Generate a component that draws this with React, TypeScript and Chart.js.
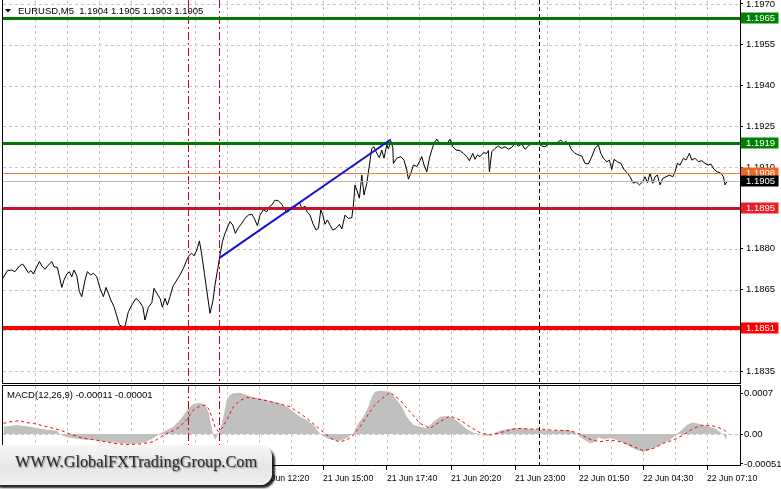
import React, { useEffect, useRef } from 'react';
import { Chart, registerables } from 'chart.js';

Chart.register(...registerables);

// ---------- DATA ----------
// price line: x = bar index (M5 bars), y = close price
const priceBars = [
  0, 2.2, 4.3, 6, 8.2, 9.8, 11, 12.7, 14, 15.2, 16.5, 18.2, 19.4, 21, 22.7, 24.4, 25.5, 27.2, 29.4, 30.5,
  31.9, 33.2, 34.4, 35.5, 36.9, 38.2, 39.4, 41, 42.2, 43.9, 45.2, 46.9, 48.5, 50.2, 51.5, 52.7, 53.9, 55.5, 56.9, 58.2,
  59.9, 61, 62.7, 64.4, 66.5, 68.2, 69.9, 71, 72.7, 74.4, 75.5, 76.9, 78.5, 79.7, 81, 82.2, 83.5, 84.9, 86.9, 88.5,
  90.2, 91.9, 93.2, 94.4, 95.5, 96.9, 98.2, 99.4, 100.7, 102.2, 103.5, 104.9, 106, 107.4, 108.5, 109.7, 111, 112.7, 113.5, 114.9,
  116.2, 117.7, 119.4, 121, 122.7, 124.4, 125.5, 127.2, 128.5, 130.2, 131.9, 133.2, 134.4, 136, 137.7, 139.4, 140.5, 141.9, 143.5, 145.5,
  146.9, 148.2, 149.4, 151, 152.2, 153.5, 154.9, 156.5, 157.7, 158.9, 159.9, 161, 162.2, 163.5, 164.9, 166.5, 168.2, 169.4, 171, 172.7,
  174.4, 175.2, 176, 176.9, 178.2, 179.4, 180.5, 181.9, 183.2, 184.4, 185.5, 186.9, 188.2, 189.4, 190.5, 191.9, 192.7, 193.9, 194.9, 195.2,
  196.9, 198.9, 200.5, 201.9, 202.7, 203.9, 205.2, 206.9, 208.2, 209.4, 210.5, 211.9, 213.2, 214.4, 215.5, 216.9, 218.2, 220.2, 221.9, 223.5,
  224.9, 226.5, 228.5, 230.2, 231.9, 233.2, 234.9, 236, 237.2, 238.5, 240.2, 241.9, 242.7, 243.2, 244.4, 246, 247.7, 249.4, 251, 252.7,
  254.4, 256, 257.7, 259.4, 261, 262.7, 264.4, 266, 267.7, 269.4, 271, 272.7, 274.4, 276, 277.7, 278.9, 280.2, 281.5, 282.7, 284.4,
  286, 287.7, 289.4, 291, 292.7, 294.4, 296, 297.7, 298.9, 300.2, 301.9, 303.2, 304.4, 305.5, 307.2, 308.9, 310.5, 312.2, 313.5, 315.2,
  316.5, 318.2, 319.9, 321, 322.2, 323.5, 324.9, 326, 327.2, 328.5, 329.9, 331.5, 333.2, 334.9, 336, 337.2, 338.5, 340.2, 341.5, 343.2,
  344.4, 346, 347.7, 349.4, 351, 352.7, 353.9, 355.5, 357.2, 358.9, 360.2, 361, 362.2,
];
const priceValues = [
  1.18692, 1.1872, 1.18722, 1.18716, 1.18737, 1.18744, 1.18732, 1.18712, 1.1872, 1.18707, 1.18728, 1.18753, 1.18737, 1.18725, 1.1874, 1.18753, 1.18734, 1.18732, 1.18658, 1.18685,
  1.18707, 1.18716, 1.18697, 1.18722, 1.187, 1.18642, 1.18624, 1.18685, 1.18716, 1.18704, 1.1871, 1.18697, 1.18655, 1.18624, 1.18658, 1.18636, 1.18612, 1.18587, 1.18553, 1.1852,
  1.18514, 1.18516, 1.18569, 1.18593, 1.18618, 1.18606, 1.18587, 1.18538, 1.18585, 1.18602, 1.18655, 1.18636, 1.18618, 1.18585, 1.18618, 1.18593, 1.18624, 1.18661, 1.18685, 1.18704,
  1.18728, 1.18759, 1.18777, 1.18783, 1.18774, 1.18796, 1.18829, 1.18777, 1.1871, 1.1863, 1.18563, 1.18606, 1.18667, 1.18728, 1.18777, 1.18826, 1.18857, 1.18887, 1.189, 1.18887,
  1.18857, 1.18878, 1.18894, 1.18912, 1.18924, 1.18927, 1.18914, 1.18885, 1.18924, 1.18943, 1.18936, 1.18955, 1.18961, 1.18979, 1.18976, 1.18964, 1.18949, 1.18934, 1.18943, 1.18951,
  1.18961, 1.18971, 1.18949, 1.18957, 1.18934, 1.18924, 1.18894, 1.18869, 1.18875, 1.18943, 1.18924, 1.1889, 1.18906, 1.18887, 1.18869, 1.18875, 1.1889, 1.18873, 1.18924, 1.18912,
  1.18914, 1.18961, 1.19035, 1.19016, 1.18986, 1.19071, 1.18998, 1.19041, 1.19108, 1.19169, 1.19175, 1.19151, 1.19135, 1.19163, 1.19133, 1.19182, 1.19167, 1.19196, 1.19172, 1.19114,
  1.19133, 1.19139, 1.19126, 1.1909, 1.19056, 1.19078, 1.19108, 1.19102, 1.1912, 1.19139, 1.19108, 1.19083, 1.19133, 1.19163, 1.19188, 1.19203, 1.19188, 1.19188, 1.19185, 1.19203,
  1.19175, 1.19163, 1.19161, 1.19151, 1.19139, 1.19124, 1.19151, 1.19129, 1.19145, 1.19139, 1.19153, 1.19151, 1.19161, 1.19083, 1.19157, 1.19169, 1.19178, 1.19169, 1.19175, 1.19166,
  1.19173, 1.19188, 1.19178, 1.19185, 1.19166, 1.19178, 1.19188, 1.1919, 1.19185, 1.19178, 1.19175, 1.19185, 1.19188, 1.19185, 1.19194, 1.192, 1.1919, 1.19194, 1.19188, 1.19163,
  1.19151, 1.19145, 1.19141, 1.19114, 1.19112, 1.19139, 1.19169, 1.19182, 1.19151, 1.19133, 1.1912, 1.19126, 1.19092, 1.19129, 1.1912, 1.19114, 1.19092, 1.19078, 1.19065, 1.19041,
  1.19047, 1.19035, 1.19047, 1.19065, 1.19043, 1.19078, 1.19041, 1.19065, 1.19071, 1.19035, 1.19059, 1.19065, 1.19071, 1.19065, 1.19083, 1.19114, 1.19108, 1.19133, 1.19126, 1.19151,
  1.19126, 1.19133, 1.1912, 1.19124, 1.19114, 1.19108, 1.19112, 1.19092, 1.19083, 1.19078, 1.19065, 1.19035, 1.1905,
];

const trendBars = [108.1, 193.9];
const trendValues = [1.18766, 1.19202];

const levelValues = [1.1965, 1.1919, 1.1908, 1.1905, 1.1895, 1.1851];
const levelLabels = ['1.1965', '1.1919', '1.1908', '1.1905', '1.1895', '1.1851'];

const priceTicks = [1.197, 1.1955, 1.194, 1.1925, 1.191, 1.1895, 1.188, 1.1865, 1.185, 1.1835];
const priceTickLabels = ['1.1970', '1.1955', '1.1940', '1.1925', '1.1910', '1.1895', '1.1880', '1.1865', '', '1.1835'];

const timeLabels = [
  '21 Jun 01:40', '21 Jun 04:20', '21 Jun 07:00', '21 Jun 09:40', '21 Jun 12:20', '21 Jun 15:00',
  '21 Jun 17:40', '21 Jun 20:20', '21 Jun 23:00', '22 Jun 01:50', '22 Jun 04:30', '22 Jun 07:10',
];

const redVLineBars = [92.35, 108.15];
const blackVLineBars = [268.2];

const macdHistBars = [
  0.2, 6.9, 13.5, 20.2, 26.9, 28, 29.5, 31.9, 38.5, 45.2, 51.9, 58.5, 65.2, 71, 75.2, 78.5, 81.9, 85.2, 88.5, 91,
  92.7, 95.2, 98.5, 101, 102.7, 103.9, 105.2, 106, 106.9, 108.5, 110.2, 111.9, 113.5, 115.2, 118.5, 121.9, 125.2, 131.9, 138.5, 141.9,
  145.2, 148.5, 151.9, 155.2, 158.5, 161.9, 165.2, 168.5, 171.9, 175.2, 177.7, 180.2, 182.7, 184.4, 186, 188.5, 193.5, 196.9, 199.4, 201.9,
  205.2, 208.5, 211.9, 215.2, 218.5, 221.9, 225.2, 228.5, 231.9, 235.2, 238.5, 241.9, 245.2, 248.5, 251.9, 255.2, 260.2, 265.2, 270.2, 275.2,
  280.2, 284.4, 286.9, 290.2, 293.5, 296, 297.7, 300.2, 303.5, 306.9, 310.2, 313.5, 316.9, 320.2, 323.5, 326.9, 330.2, 333.5, 336.9, 339.4,
  341.9, 344.4, 346.9, 350.2, 353.5, 356.9, 360.2, 361.9,
];
const macdHistValues = [
  0.000125, 0.000154, 0.000125, 0.00008, 0.000057, 0.000015, -0.00002, -0.000057, -0.000091, -0.000102, -0.000131, -0.000159, -0.00017, -0.00014, -0.000074, 0.000011, 0.000068, 0.000125, 0.000239, 0.000353,
  0.000438, 0.000512, 0.000535, 0.000495, 0.000381, 0.000182, -0.000017, -0.000102, -0.000046, 0.000068, 0.000296, 0.00058, 0.000666, 0.000695, 0.000705, 0.000666, 0.000626, 0.00058, 0.000524, 0.000467,
  0.000381, 0.000296, 0.000239, 0.000154, 0.000011, -0.000074, -0.000102, -0.000114, -0.000074, 0.000011, 0.000182, 0.000296, 0.000467, 0.000637, 0.000722, 0.00074, 0.000722, 0.00058, 0.000467, 0.000296,
  0.000154, 0.000125, 0.000097, 0.00021, 0.000296, 0.000307, 0.000268, 0.000182, 0.00008, 0.000023, 0, -0.000034, 0.000011, 0.000057, 0.00008, 0.000097, 0.000097, 0.00008, 0.000068, 0.000057,
  0.000068, 0.000057, 0, -0.000091, -0.000159, -0.000131, -0.000057, -0.000091, -0.000074, -0.000102, -0.000148, -0.000216, -0.000273, -0.000302, -0.000273, -0.000216, -0.000159, -0.000102, 0, 0.000068,
  0.000154, 0.000193, 0.000182, 0.000154, 0.000125, 0.00008, -0.000017, -0.000102,
];

const macdSignalBars = [
  0.2, 3.5, 8.5, 11.9, 15.2, 21.9, 28.5, 33.5, 40.2, 48.5, 55.2, 61.9, 68.5, 75.2, 78.5, 81.9, 85.2, 88.5, 91.9, 95.2,
  98.5, 101, 102.7, 104.4, 106, 107.7, 109.4, 111.9, 115.2, 118.5, 121.9, 125.2, 131.9, 138.5, 143.5, 148.5, 151.9, 156.9, 161.9, 165.2,
  168.5, 171.9, 175.2, 178.5, 181.9, 185.2, 188.5, 193.5, 198.5, 203.5, 208.5, 213.5, 218.5, 223.5, 228.5, 233.5, 238.5, 243.5, 248.5, 253.5,
  256.9, 263.5, 268.5, 273.5, 283.5, 288.5, 293.5, 298.5, 303.5, 308.5, 313.5, 320.2, 325.2, 330.2, 335.2, 340.2, 345.2, 350.2, 355.2, 360.2,
  362.7,
];
const macdSignalValues = [
  0.000182, 0.00021, 0.000228, 0.000193, 0.000182, 0.000125, 0.000068, 0, -0.000074, -0.000114, -0.000159, -0.00018, -0.00017, -0.000131, -0.000057, 0.000011, 0.000057, 0.000125, 0.00025, 0.00041,
  0.000478, 0.000495, 0.000438, 0.000296, 0.000125, 0.00004, 0.000097, 0.000239, 0.000467, 0.000569, 0.000626, 0.000609, 0.000569, 0.000512, 0.000467, 0.000353, 0.000268, 0.000125, -0.000017, -0.000102,
  -0.000131, -0.000102, -0.000017, 0.000125, 0.000296, 0.000467, 0.00058, 0.00071, 0.00058, 0.000381, 0.000182, 0.000097, 0.00021, 0.000307, 0.000239, 0.000125, 0.000023, -0.000017, 0.000023, 0.000068,
  0.000097, 0.000085, 0.000085, 0.000068, 0.000057, 0, -0.000091, -0.000131, -0.000102, -0.000131, -0.000188, -0.000285, -0.000245, -0.000159, -0.000102, -0.000017, 0.000097, 0.000154, 0.000137, 0.00008,
  0,
];

const macdTicks = [0.0007, 0, -0.00051];
const macdTickLabels = ['0.0007', '0.00', '-0.00051'];

const headerText = 'EURUSD,M5  1.1904 1.1905 1.1903 1.1905';
const macdText = 'MACD(12,26,9) -0.00011 -0.00001';
const watermarkText = 'WWW.GlobalFXTradingGroup.Com';

// ---------- STYLES ----------
const FONT = '"Liberation Sans", Arial, sans-serif';
const GRID = '#c6c6c6';
const BAR_MAX = 368.5;
const GRID_STEP = 16;
const LABEL_STEP = 32;
const levelStyles = [
  { line: '#007800', width: 3, box: '#008000', text: '#ffffff' },
  { line: '#007800', width: 3, box: '#008000', text: '#ffffff' },
  { line: '#ff7a30', width: 1, box: '#f26522', text: '#ffffff' },
  { line: '#b8b8b8', width: 1, box: '#000000', text: '#ffffff' },
  { line: '#c8142a', width: 3, box: '#ee1c25', text: '#ffffff' },
  { line: '#ff0000', width: 4, box: '#ff0000', text: '#ffffff' },
];

function seg(ctx: CanvasRenderingContext2D, x1: number, y1: number, x2: number, y2: number) {
  ctx.beginPath();
  ctx.moveTo(x1, y1);
  ctx.lineTo(x2, y2);
  ctx.stroke();
}

function drawVGrid(chart: any) {
  const { ctx, chartArea: a, scales } = chart;
  ctx.save();
  ctx.strokeStyle = GRID;
  ctx.lineWidth = 1;
  ctx.setLineDash([3, 3]);
  for (let b = GRID_STEP; b < BAR_MAX - 4; b += GRID_STEP) {
    const px = Math.round(scales.x.getPixelForValue(b)) + 0.5;
    seg(ctx, px, a.top, px, a.bottom);
  }
  ctx.restore();
}

function drawVLines(chart: any) {
  const { ctx, chartArea: a, scales } = chart;
  ctx.save();
  ctx.lineWidth = 1;
  ctx.strokeStyle = '#c8001e';
  ctx.setLineDash([8, 3, 2, 3]);
  redVLineBars.forEach((b) => {
    const px = Math.round(scales.x.getPixelForValue(b)) + 0.5;
    seg(ctx, px, a.top - 1, px, a.bottom);
  });
  ctx.strokeStyle = '#000000';
  ctx.setLineDash([4, 3]);
  blackVLineBars.forEach((b) => {
    const px = Math.round(scales.x.getPixelForValue(b)) + 0.5;
    seg(ctx, px, a.top - 1, px, a.bottom);
  });
  ctx.restore();
}

function drawFrame(chart: any, top: number) {
  const { ctx, chartArea: a } = chart;
  ctx.save();
  ctx.strokeStyle = '#000';
  ctx.lineWidth = 1;
  ctx.setLineDash([]);
  seg(ctx, a.left - 0.5, top, a.left - 0.5, a.bottom);
  seg(ctx, a.right + 0.5, top, a.right + 0.5, a.bottom);
  seg(ctx, a.left - 0.5, a.bottom - 0.5, a.right + 0.5, a.bottom - 0.5);
  ctx.restore();
}

const mainPlugin = {
  id: 'mt4main',
  beforeDatasetsDraw(chart: any) {
    const { ctx, chartArea: a, scales } = chart;
    drawVGrid(chart);
    ctx.save();
    ctx.strokeStyle = GRID;
    ctx.lineWidth = 1;
    ctx.setLineDash([3, 3]);
    priceTicks.forEach((v) => {
      const py = Math.round(scales.y.getPixelForValue(v)) + 0.5;
      seg(ctx, a.left, py, a.right, py);
    });
    ctx.restore();
  },
  afterDatasetDraw(chart: any, args: any) {
    if (args.index !== 1) return;
    const { ctx, chartArea: a, scales } = chart;
    drawVLines(chart);
    ctx.save();
    ctx.setLineDash([]);
    levelValues.forEach((v, i) => {
      const st = levelStyles[i];
      const py = scales.y.getPixelForValue(v);
      ctx.strokeStyle = st.line;
      ctx.lineWidth = st.width;
      const yy = st.width % 2 === 1 ? Math.round(py) + 0.5 : Math.round(py);
      seg(ctx, a.left, yy, a.right, yy);
    });
    ctx.restore();
  },
  afterDraw(chart: any) {
    const { ctx, chartArea: a, scales } = chart;
    drawFrame(chart, 0);
    ctx.save();
    ctx.font = `9.5px ${FONT}`;
    ctx.textBaseline = 'middle';
    ctx.textAlign = 'left';
    levelValues.forEach((v, i) => {
      const st = levelStyles[i];
      const py = Math.round(scales.y.getPixelForValue(v));
      ctx.fillStyle = st.box;
      ctx.fillRect(a.right + 1, py - 5.5, 37.5, 11);
      ctx.fillStyle = st.text;
      ctx.fillText(levelLabels[i], a.right + 6, py + 0.5);
    });
    // header
    ctx.fillStyle = '#000';
    ctx.beginPath();
    ctx.moveTo(5, 9);
    ctx.lineTo(11, 9);
    ctx.lineTo(8, 12.5);
    ctx.closePath();
    ctx.fill();
    ctx.fillText(headerText, 18, 11);
    ctx.restore();
  },
};

const macdPlugin = {
  id: 'mt4macd',
  beforeDatasetsDraw(chart: any) {
    const { ctx, chartArea: a, scales } = chart;
    drawVGrid(chart);
    ctx.save();
    ctx.strokeStyle = GRID;
    ctx.lineWidth = 1;
    ctx.setLineDash([3, 3]);
    const py = Math.round(scales.y.getPixelForValue(0)) + 0.5;
    seg(ctx, a.left, py, a.right, py);
    ctx.restore();
  },
  afterDatasetsDraw(chart: any) {
    drawVLines(chart);
  },
  afterDraw(chart: any) {
    const { ctx, chartArea: a } = chart;
    drawFrame(chart, 0);
    ctx.save();
    ctx.strokeStyle = '#000';
    ctx.lineWidth = 1;
    seg(ctx, a.left - 0.5, 0.5, a.right + 0.5, 0.5);
    ctx.fillStyle = '#000';
    ctx.font = `9.5px ${FONT}`;
    ctx.textBaseline = 'middle';
    ctx.textAlign = 'left';
    ctx.fillText(macdText, 7, 10);
    ctx.restore();
  },
};

export default function App() {
  const mainRef = useRef<HTMLCanvasElement>(null);
  const macdRef = useRef<HTMLCanvasElement>(null);

  useEffect(() => {
    document.body.style.margin = '0';
    const main = new Chart(mainRef.current as HTMLCanvasElement, {
      type: 'line',
      data: {
        datasets: [
          {
            data: trendBars.map((b, i) => ({ x: b, y: trendValues[i] })),
            borderColor: '#1212d2',
            borderWidth: 2,
            pointRadius: 0,
            tension: 0,
          },
          {
            data: priceBars.map((b, i) => ({ x: b, y: priceValues[i] })),
            borderColor: '#000000',
            borderWidth: 1,
            pointRadius: 0,
            tension: 0,
          },
        ],
      },
      options: {
        responsive: false,
        animation: false,
        devicePixelRatio: 1,
        events: [],
        layout: { padding: { left: 3, top: 1, right: 0, bottom: 1 }, autoPadding: false },
        plugins: { legend: { display: false }, tooltip: { enabled: false } },
        scales: {
          x: { type: 'linear', display: false, min: 0, max: BAR_MAX },
          y: {
            type: 'linear',
            position: 'right',
            min: 1.18303,
            max: 1.19711,
            afterBuildTicks: (s: any) => {
              s.ticks = priceTicks.map((v) => ({ value: v }));
            },
            afterFit: (s: any) => {
              s.width = 41;
              s.paddingTop = 0;
              s.paddingBottom = 0;
            },
            ticks: {
              autoSkip: false,
              padding: 3,
              color: '#000',
              font: { family: FONT, size: 9.5 },
              callback: (_v: any, i: number) => priceTickLabels[i],
            },
            grid: { display: true, drawOnChartArea: false, drawTicks: true, tickLength: 3, tickColor: '#000', color: '#000' },
            border: { display: false },
          },
        },
      },
      plugins: [mainPlugin],
    } as any);

    const macd = new Chart(macdRef.current as HTMLCanvasElement, {
      type: 'line',
      data: {
        datasets: [
          {
            data: macdSignalBars.map((b, i) => ({ x: b, y: macdSignalValues[i] })),
            borderColor: '#ff0000',
            borderWidth: 1,
            borderDash: [3, 3],
            pointRadius: 0,
            tension: 0,
            fill: false,
          },
          {
            data: macdHistBars.map((b, i) => ({ x: b, y: macdHistValues[i] })),
            borderColor: 'rgba(0,0,0,0)',
            borderWidth: 0,
            backgroundColor: '#c0c0c0',
            pointRadius: 0,
            tension: 0,
            fill: 'origin',
          },
        ],
      },
      options: {
        responsive: false,
        animation: false,
        devicePixelRatio: 1,
        events: [],
        layout: { padding: { left: 3, top: 1, right: 0, bottom: 0 }, autoPadding: false },
        plugins: { legend: { display: false }, tooltip: { enabled: false } },
        scales: {
          x: {
            type: 'linear',
            position: 'bottom',
            min: 0,
            max: BAR_MAX,
            afterBuildTicks: (s: any) => {
              s.ticks = timeLabels.map((_t, i) => ({ value: i * LABEL_STEP }));
            },
            afterFit: (s: any) => {
              s.height = 23;
              s.paddingLeft = 0;
              s.paddingRight = 0;
            },
            ticks: {
              autoSkip: false,
              maxRotation: 0,
              minRotation: 0,
              align: 'start',
              padding: 3,
              color: '#000',
              font: { family: FONT, size: 8.7 },
              callback: (_v: any, i: number) => timeLabels[i],
            },
            grid: { display: true, drawOnChartArea: false, drawTicks: true, tickLength: 4, tickColor: '#000', color: '#000' },
            border: { display: false },
          },
          y: {
            type: 'linear',
            position: 'right',
            min: -0.000546,
            max: 0.00082,
            afterBuildTicks: (s: any) => {
              s.ticks = macdTicks.map((v) => ({ value: v }));
            },
            afterFit: (s: any) => {
              s.width = 41;
              s.paddingTop = 0;
              s.paddingBottom = 0;
            },
            ticks: {
              autoSkip: false,
              padding: 1,
              color: '#000',
              font: { family: FONT, size: 9.5 },
              callback: (_v: any, i: number) => macdTickLabels[i],
            },
            grid: { display: true, drawOnChartArea: false, drawTicks: true, tickLength: 3, tickColor: '#000', color: '#000' },
            border: { display: false },
          },
        },
      },
      plugins: [macdPlugin],
    } as any);

    return () => {
      main.destroy();
      macd.destroy();
    };
  }, []);

  return (
    <div style={{ position: 'relative', width: 781, height: 489, overflow: 'hidden', background: '#ffffff' }}>
      <canvas
        ref={mainRef}
        width={781}
        height={385}
        style={{ position: 'absolute', left: 0, top: 0, width: 781, height: 385, display: 'block' }}
      />
      <canvas
        ref={macdRef}
        width={781}
        height={104}
        style={{ position: 'absolute', left: 0, top: 385, width: 781, height: 104, display: 'block' }}
      />
      <div
        style={{
          position: 'absolute',
          left: -12,
          top: 445,
          width: 284,
          height: 40,
          borderRadius: 12,
          background: 'linear-gradient(to bottom, #f7f7f7 0%, #e6e6e6 55%, #f0f0f0 100%)',
          boxShadow: '3px 3px 2px rgba(0,0,0,0.85)',
          boxSizing: 'border-box',
          paddingLeft: 27,
          paddingTop: 9,
          fontFamily: '"Liberation Serif", "DejaVu Serif", serif',
          fontSize: 16.3,
          lineHeight: '16px',
          color: '#2b2b2b',
          textShadow: '1px 1px 1.5px rgba(0,0,0,0.5)',
          whiteSpace: 'nowrap',
        }}
      >
        {watermarkText}
      </div>
    </div>
  );
}
